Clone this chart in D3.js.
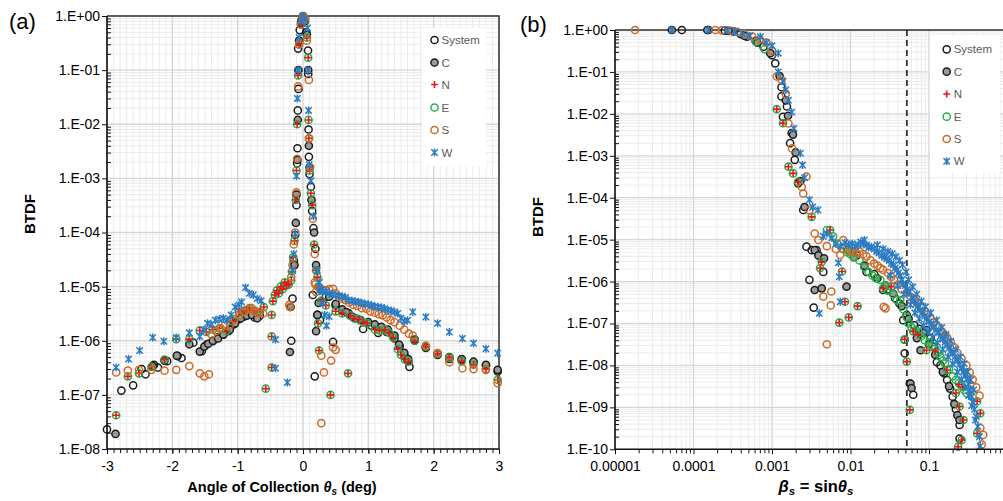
<!DOCTYPE html>
<html>
<head>
<meta charset="utf-8">
<script src="https://cdn.jsdelivr.net/npm/d3@7"></script>
<style>
  body { margin: 0; background: #fff; }
  svg { display: block; }
  text { font-family: "Liberation Sans", Arial, sans-serif; }
</style>
</head>
<body>
<script>
// ---------- series names and tick labels ----------
const seriesNames = ["System", "C", "N", "E", "S", "W"];

const aXTicks = [-3, -2, -1, 0, 1, 2, 3];
const aYTicks = [1, 1e-1, 1e-2, 1e-3, 1e-4, 1e-5, 1e-6, 1e-7, 1e-8];
const aYTickLabels = ["1.E+00", "1.E-01", "1.E-02", "1.E-03", "1.E-04", "1.E-05", "1.E-06", "1.E-07", "1.E-08"];

const bXTicks = [1e-5, 1e-4, 1e-3, 1e-2, 1e-1];
const bXTickLabels = ["0.00001", "0.0001", "0.001", "0.01", "0.1"];
const bYTicks = [1, 1e-1, 1e-2, 1e-3, 1e-4, 1e-5, 1e-6, 1e-7, 1e-8, 1e-9, 1e-10];
const bYTickLabels = ["1.E+00", "1.E-01", "1.E-02", "1.E-03", "1.E-04", "1.E-05", "1.E-06", "1.E-07", "1.E-08", "1.E-09", "1.E-10"];

// incidence cut-off marked on panel (b): sin(3 deg)
const bCutoff = [0.0523];

// ---------- panel (a): BTDF vs angle of collection (deg) ----------
const sysA = [
  [-3.0,2.3e-8],[-2.78,1.2e-7],[-2.6,1.5e-7],[-2.47,3.0e-7],[-2.41,2.4e-7],[-2.28,3.6e-7],[-2.22,3.2e-7],
  [-2.08,4.2e-7],[-1.92,5.2e-7],[-1.86,4.8e-7],[-1.68,9.2e-7],[-1.55,6.4e-7],[-1.47,8.6e-7],[-1.38,9.8e-7],
  [-1.30,1.15e-6],[-1.22,1.3e-6],[-1.14,1.5e-6],[-1.06,2.0e-6],[-0.98,2.5e-6],[-0.90,2.8e-6],[-0.82,3.1e-6],
  [-0.74,2.7e-6],[-0.66,2.9e-6],[-0.16,6.0e-6],[-0.18,1.0e-6],
  [-0.14,3.0e-5],[-0.12,9e-5],[-0.10,3.2e-4],[-0.09,1.9e-3],[-0.085,3.6e-3],[-0.08,0.018],[-0.07,0.045],
  [-0.075,0.25],[-0.05,0.55],[-0.02,0.85],[0.0,1.0],[0.03,0.8],[0.05,0.5],[0.077,0.23],[0.08,0.085],
  [0.085,8e-3],[0.09,2.5e-3],[0.1,1.2e-3],[0.12,7e-4],[0.14,2.5e-4],[0.16,1.2e-4],[0.19,5e-5],[0.15,7e-6],
  [0.18,2.2e-7],[0.22,3.0e-6],[0.26,2.4e-6],[0.46,9.5e-7],
  [0.35,6.5e-6],[0.5,4.5e-6],[0.6,3.6e-6],[0.7,3.2e-6],[0.8,2.6e-6],[0.92,1.65e-6],[1.05,1.9e-6],
  [1.15,1.4e-6],[1.28,1.45e-6],[1.4,1.1e-6],[1.48,8e-7],[1.55,5.5e-7],[1.6,4.3e-7],[1.63,3.3e-7],
  [1.71,1.0e-6],[1.88,7.4e-7],[2.06,5.5e-7],[2.24,4.6e-7],[2.43,4.4e-7],[2.61,4.0e-7],[2.80,3.5e-7],[2.98,2.7e-7]
];
const cA = [
  [-2.87,1.9e-8],[-2.3,3.4e-7],[-2.12,4.3e-7],[-1.93,5.3e-7],[-1.74,8.6e-7],[-1.58,6.3e-7],[-1.51,7.8e-7],
  [-1.45,8.8e-7],[-1.38,1.0e-6],[-1.30,1.1e-6],[-1.22,1.3e-6],[-1.12,1.6e-6],[-1.04,2.1e-6],[-0.95,2.6e-6],
  [-0.86,2.9e-6],[-0.78,3.0e-6],[-0.70,2.6e-6],[-0.2,6.2e-7],[-0.19,4.2e-6],
  [-0.13,2.5e-5],[-0.11,1.5e-4],[-0.1,5e-4],[-0.085,2.2e-3],[-0.08,0.012],[-0.07,0.1],[-0.06,0.35],
  [-0.03,0.75],[0.0,0.95],[0.03,0.9],[0.06,0.45],[0.08,0.1],[0.09,4e-3],[0.1,1.6e-3],[0.13,4e-4],
  [0.17,1.0e-4],[0.2,2.5e-5],[0.2,1.5e-6],[0.22,3e-6],[0.24,5e-6],
  [0.4,6.5e-6],[0.5,4.8e-6],[0.6,3.8e-6],[0.66,3.4e-6],[0.75,2.8e-6],[0.88,2.4e-6],[1.0,2.2e-6],
  [1.1,2.0e-6],[1.2,1.8e-6],[1.3,1.6e-6],[1.4,1.25e-6],[1.47,8.5e-7],[1.55,6e-7],[1.61,4.6e-7],
  [1.71,1.05e-6],[1.88,7.6e-7],[2.06,5.8e-7],[2.24,5.0e-7],[2.43,4.6e-7],[2.61,4.1e-7],[2.80,3.6e-7],[2.98,2.9e-7]
];
const eA = [
  [-2.86,4.2e-8],[-2.68,2.2e-7],[-2.51,2.5e-7],[-2.32,3.3e-7],[-2.12,4.5e-7],[-1.94,1.07e-6],[-1.74,1.07e-6],
  [-1.58,1.55e-6],[-1.48,1.45e-6],[-1.38,1.6e-6],[-1.28,1.7e-6],[-1.17,1.5e-6],[-1.08,2.3e-6],[-0.98,3.4e-6],
  [-0.90,3.6e-6],[-0.82,4.0e-6],[-0.74,3.6e-6],[-0.66,3.4e-6],[-0.6,4.2e-6],[-0.48,3.0e-6],[-0.48,1.2e-6],
  [-0.48,3.2e-7],[-0.57,1.3e-7],
  [-0.46,5.4e-6],[-0.43,7e-6],[-0.40,8.5e-6],[-0.37,7.5e-6],[-0.34,1.0e-5],[-0.31,9e-6],[-0.28,1.2e-5],
  [-0.25,1.05e-5],[-0.22,1.1e-5],[-0.18,1.3e-5],[-0.17,1.9e-5],[-0.15,3.5e-5],
  [-0.13,7e-5],[-0.11,4e-4],[-0.1,1.4e-3],[-0.09,0.01],[-0.075,0.08],[-0.06,0.3],[-0.03,0.7],[0.0,0.98],
  [0.03,0.85],[0.06,0.4],[0.08,0.17],[0.085,0.012],[0.09,5.5e-3],[0.1,1.4e-3],[0.12,5.3e-4],[0.14,3.2e-4],
  [0.17,6e-5],[0.2,2e-5],[0.22,1.5e-5],[0.23,1e-5],[0.23,2.1e-6],[0.245,6.6e-7],[0.42,1.0e-7],[0.69,2.5e-7],
  [0.28,5.5e-6],[0.35,4.5e-6],[0.5,3.5e-6],[0.6,3.2e-6],[0.72,2.9e-6],[0.78,2.6e-6],[0.85,2.5e-6],
  [0.92,2.2e-6],[0.98,2.1e-6],[1.1,1.6e-6],[1.17,1.55e-6],[1.25,1.6e-6],[1.32,1.4e-6],[1.38,1.15e-6],
  [1.45,7e-7],[1.5,5.5e-7],[1.56,4.5e-7],[1.62,4.1e-7],[1.71,1.0e-6],[1.88,7.8e-7],[2.06,5.7e-7],
  [2.24,4.9e-7],[2.43,4.2e-7],[2.61,3.6e-7],[2.80,3.0e-7],[2.98,1.9e-7]
];
// N was measured at the same positions as E in this scan
const nA = eA;
const sA = [
  [-2.86,2.6e-7],[-2.68,2.8e-7],[-2.51,2.9e-7],[-2.32,2.9e-7],[-2.12,2.8e-7],[-1.94,2.9e-7],[-1.74,3.4e-7],
  [-1.58,2.5e-7],[-1.51,2.2e-7],[-1.44,2.4e-7],[-1.4,1.3e-6],[-1.33,1.5e-6],[-1.26,1.7e-6],[-1.2,1.9e-6],
  [-1.12,2.0e-6],[-1.05,2.5e-6],[-0.98,2.9e-6],[-0.9,3.4e-6],[-0.84,3.8e-6],[-0.79,4.0e-6],[-0.74,3.5e-6],
  [-0.68,3.2e-6],[-0.61,3.2e-6],[-0.21,4.6e-6],[-0.2,4.2e-6],
  [-0.18,1.5e-5],[-0.16,2.5e-5],[-0.14,6e-5],[-0.12,1.0e-4],[-0.1,5.5e-4],[-0.09,2.3e-3],[-0.075,0.05],
  [-0.06,0.3],[-0.03,0.7],[0.0,0.98],[0.03,0.9],[0.06,0.35],[0.09,0.066],[0.095,5.5e-3],[0.11,1.6e-3],
  [0.15,1.8e-4],[0.18,4e-5],[0.19,1.1e-5],[0.2,8e-6],[0.28,5.3e-7],[0.43,4.3e-7],[0.32,2.6e-7],[0.28,3.0e-8],
  [0.46,7.5e-7],[0.5,6.8e-7],
  [0.18,1.2e-5],[0.25,9.5e-6],[0.3,8.5e-6],[0.35,8.5e-6],[0.4,9.0e-6],[0.46,9.1e-6],[0.5,7.5e-6],[0.55,6.5e-6],
  [0.6,6.0e-6],[0.65,5.6e-6],[0.71,5.1e-6],[0.77,4.6e-6],[0.83,4.4e-6],[0.9,4.0e-6],[0.97,3.9e-6],
  [1.03,3.5e-6],[1.1,3.3e-6],[1.16,3.1e-6],[1.22,2.95e-6],[1.28,2.7e-6],[1.34,2.4e-6],[1.4,2.2e-6],
  [1.48,1.9e-6],[1.55,1.6e-6],[1.62,1.35e-6],[1.68,1.25e-6],[1.88,8.1e-7],[2.06,5.9e-7],[2.24,4.0e-7],
  [2.44,3.1e-7],[2.61,3.0e-7],[2.8,2.9e-7],[2.98,1.65e-7]
];
const wA = [
  [-2.86,3.2e-7],[-2.67,4.6e-7],[-2.5,6.6e-7],[-2.3,1.15e-6],[-2.13,9.8e-7],[-1.94,1.15e-6],[-1.74,1.4e-6],
  [-1.58,1.2e-6],[-1.52,1.6e-6],[-1.46,2.1e-6],[-1.4,2.0e-6],[-1.34,2.4e-6],[-1.28,2.5e-6],[-1.22,2.6e-6],
  [-1.16,2.4e-6],[-1.1,3.0e-6],[-1.04,4.2e-6],[-0.98,4.6e-6],[-0.94,5.2e-6],[-0.88,9.6e-6],[-0.82,7.5e-6],
  [-0.76,7e-6],[-0.7,6e-6],[-0.64,5.5e-6],[-0.42,1.05e-6],[-0.42,3.1e-7],[-0.24,1.7e-7],
  [-0.16,2e-5],[-0.14,4e-5],[-0.12,9.5e-5],[-0.1,1.1e-3],[-0.085,0.03],[-0.075,0.1],[-0.06,0.4],[-0.03,0.8],
  [0.0,1.0],[0.03,0.9],[0.07,0.6],[0.08,0.1],[0.085,0.018],[0.095,1.8e-3],[0.12,9e-4],[0.16,2e-4],
  [0.22,2e-5],[0.25,1.2e-5],[0.28,9e-6],[0.3,5e-6],[0.33,3e-6],[0.36,1.9e-6],[0.4,2.8e-6],
  [0.25,8.5e-6],[0.3,8e-6],[0.35,8.2e-6],[0.4,7.5e-6],[0.45,7.2e-6],[0.5,7.0e-6],[0.55,6.7e-6],[0.6,6.6e-6],
  [0.65,6.3e-6],[0.7,5.6e-6],[0.75,5.5e-6],[0.8,5.3e-6],[0.85,5.2e-6],[0.9,5e-6],[0.95,4.8e-6],[1.0,4.7e-6],
  [1.05,4.5e-6],[1.1,4.3e-6],[1.15,4.2e-6],[1.2,4.1e-6],[1.25,3.9e-6],[1.3,3.7e-6],[1.35,3.6e-6],[1.4,3.4e-6],
  [1.45,3.2e-6],[1.5,2.6e-6],[1.55,2.3e-6],[1.6,2.4e-6],[1.68,3.4e-6],[1.88,2.75e-6],[2.06,2.1e-6],
  [2.24,1.45e-6],[2.44,1.1e-6],[2.61,9e-7],[2.8,7.1e-7],[2.98,5.9e-7]
];

// ---------- panel (b): BTDF vs beta_s = sin(theta_s) ----------
const sysB = [
  [7.1e-5,1.0],[1.55e-4,1.0],[2.5e-4,0.97],[3.2e-4,0.93],[4.0e-4,0.8],[4.8e-4,0.69],[6.2e-4,0.55],[7.8e-4,0.4],
  [1.0e-3,0.25],[1.1e-3,0.16],[1.32e-3,0.043],[1.32e-3,0.026],[1.55e-3,0.015],[1.38e-3,8.5e-3],[1.78e-3,3.5e-3],
  [1.7e-3,2.0e-3],[1.95e-3,8e-4],[2.15e-3,2.2e-4],[2.5e-3,5.1e-5],[2.75e-3,6.8e-6],[3.2e-3,5.6e-6],[3.7e-3,5.6e-6],
  [4.3e-3,3.5e-6],[4.5e-3,1.7e-6],[3.0e-3,1.1e-6],[3.4e-3,2.4e-7],[9.3e-3,5.6e-6],[1.2e-2,4.2e-6],[1.6e-2,1.7e-6],
  [2.0e-2,1.5e-6],[2.6e-2,6.3e-7],[3.0e-2,6.5e-7],[3.7e-2,4.0e-7],[4.2e-2,3.0e-7],[4.7e-2,1.2e-7],[4.9e-2,4.1e-8],
  [4.9e-2,1.95e-8],[5.2e-2,1.6e-7],[5.7e-2,3.7e-9],[6.3e-2,2.0e-9],[6.5e-2,9e-8],[7.5e-2,7.5e-8],[9.3e-2,7.0e-8],
  [0.105,4.5e-8],[0.115,2.8e-8],[0.126,1.2e-8],[0.14,1.0e-8],[0.155,6.5e-9],[0.17,4.5e-9],[0.185,2.8e-9],
  [0.2,1.8e-9],[0.22,9e-10],[0.245,3.8e-10],[0.245,1.8e-10]
];
const cB = [
  [5.3e-5,1.0],[1.5e-4,1.0],[2.8e-4,0.95],[4.5e-4,0.72],[6.5e-4,0.5],[9.5e-4,0.28],[1.25e-3,0.08],[1.5e-3,0.021],
  [1.6e-3,9e-3],[1.85e-3,3.2e-3],[2.0e-3,1.2e-3],[2.3e-3,2.5e-4],[2.6e-3,6e-5],[3.5e-3,5.6e-6],[3.9e-3,4.2e-6],
  [4.6e-3,3.6e-6],[3.5e-3,6.3e-7],[4.3e-3,6.9e-7],[8.9e-3,7.6e-7],[1.1e-2,3.8e-6],[1.5e-2,2.4e-6],[2.2e-2,1.2e-6],
  [2.8e-2,8e-7],[3.5e-2,5.2e-7],[4.5e-2,2.6e-7],[5.5e-2,1.3e-7],[5.8e-2,3.7e-9],[6.0e-2,2.9e-9],[7.0e-2,4.5e-8],
  [7.8e-2,2.3e-8],[8.5e-2,6e-8],[0.1,3.2e-8],[0.12,1.8e-8],[0.15,7e-9],[0.18,3.2e-9],[0.21,1.2e-9],
  [0.23,6.5e-10],[0.245,5e-10]
];
const eB = [
  [6.3e-4,0.52],[8e-4,0.35],[1.15e-3,0.013],[1.38e-3,6e-3],[1.62e-3,5.5e-4],[1.86e-3,3.8e-4],[2.15e-3,2.4e-4],
  [3.2e-3,3.5e-5],[5.5e-3,1.7e-5],[4.3e-3,2.95e-6],[4.1e-3,2.1e-6],[7.8e-3,1.74e-6],[8.5e-3,3.3e-7],
  [1.23e-2,2.6e-7],[7.2e-3,1.05e-7],[9.5e-3,1.4e-7],[2.6e-2,6.9e-7],[3.3e-2,7.6e-7],[4.9e-2,4.2e-8],
  [5.2e-2,1.23e-8],[5.7e-2,8.7e-10],[6.3e-2,6.5e-8],[9.3e-2,2.3e-8],[0.17,7.8e-9],[0.22,2.2e-9],[0.245,1.05e-9],
  [0.275,5e-10],[0.26,1.66e-10],[0.235,1.15e-10],[0.41,1.4e-9],[0.45,7.2e-10],[0.41,2.4e-10],
  [5.0e-3,1.7e-5],[6.0e-3,1.2e-5],[6.8e-3,8e-6],[8.0e-3,6e-6],[9.0e-3,5e-6],[1.0e-2,4.5e-6],[1.1e-2,3.8e-6],
  [1.3e-2,3.2e-6],[1.5e-2,2.2e-6],[1.7e-2,1.7e-6],[1.9e-2,1.4e-6],[2.1e-2,1.2e-6],[2.4e-2,1.1e-6],[2.8e-2,8e-7],
  [3.0e-2,6e-7],[3.5e-2,5e-7],[3.9e-2,3.6e-7],[4.3e-2,3.6e-7],[4.7e-2,2.2e-7],[5.2e-2,1.4e-7],[5.5e-2,1.0e-7],
  [6.0e-2,8e-8],[6.8e-2,7e-8],[7.5e-2,6e-8],[8.0e-2,5e-8],[8.8e-2,4e-8],[0.1,3.5e-8],[0.11,3e-8],[0.12,2.5e-8],
  [0.13,2.0e-8],[0.14,1.6e-8],[0.15,1.3e-8],[0.16,1.1e-8],[0.18,8e-9],[0.2,5.5e-9],[0.22,4.5e-9],[0.24,3.8e-9],
  [0.26,3.2e-9],[0.28,2.6e-9],[0.3,2.2e-9]
];
const nB = [
  [1.15e-3,0.013],[1.38e-3,6e-3],[1.62e-3,5.5e-4],[1.86e-3,3.8e-4],[2.15e-3,2.4e-4],[3.2e-3,3.5e-5],[5.5e-3,1.7e-5],
  [4.3e-3,2.95e-6],[4.1e-3,2.1e-6],[7.8e-3,1.74e-6],[8.5e-3,3.3e-7],[1.23e-2,2.6e-7],[7.2e-3,1.05e-7],
  [9.5e-3,1.4e-7],[2.6e-2,6.9e-7],[3.3e-2,7.6e-7],[4.9e-2,4.2e-8],[5.2e-2,1.23e-8],[5.7e-2,8.7e-10],
  [6.3e-2,6.5e-8],[7.2e-2,5.5e-8],[9.3e-2,2.3e-8],[0.12,2.2e-8],[0.17,7.8e-9],[0.22,2.2e-9],[0.245,1.05e-9],
  [0.275,5e-10],[0.26,1.66e-10],[0.235,1.15e-10],[0.41,1.4e-9],[0.45,7.2e-10],[0.41,2.4e-10],[0.27,3e-9],[0.24,3.5e-9]
];
const sB = [
  [1.8e-5,1.0],[1.9e-4,1.0],[2.3e-4,0.98],[3.0e-4,0.96],[3.6e-4,0.9],[4.4e-4,0.82],[5.6e-4,0.7],[7.0e-4,0.6],
  [8.5e-4,0.5],[1.0e-3,0.32],[1.15e-3,0.078],[1.32e-3,0.065],[1.5e-3,0.03],[1.62e-3,5.9e-3],[1.8e-3,1.5e-3],
  [2.4e-3,1.8e-4],[2.75e-3,3.2e-4],[2.5e-3,1.26e-4],[3.0e-3,5e-5],[3.5e-3,1.4e-5],[3.9e-3,9.8e-6],[5.0e-3,7e-6],
  [6.5e-3,6e-6],[8.1e-3,9.8e-6],[7.4e-3,4.3e-6],[4.5e-3,4.4e-7],[5.7e-3,5.8e-7],[5.6e-3,2.7e-7],[5e-3,3.2e-8],
  [9e-3,6e-6],[1.0e-2,5.5e-6],[1.1e-2,5e-6],[1.2e-2,4.8e-6],[1.3e-2,5.2e-6],[1.45e-2,4.5e-6],[1.6e-2,4e-6],
  [1.8e-2,3.2e-6],[2.0e-2,2.7e-6],[2.2e-2,2.4e-6],[2.4e-2,2.1e-6],[2.6e-2,1.9e-6],[2.65e-2,2.5e-7],[2.8e-2,2.3e-7],
  [3.0e-2,1.6e-6],[3.3e-2,1.3e-6],[3.6e-2,1.1e-6],[4.0e-2,8.5e-7],[4.5e-2,6.5e-7],[5.2e-2,5.5e-7],[5.8e-2,4.4e-7],
  [6.5e-2,3.6e-7],[7.2e-2,3.0e-7],[8e-2,2.4e-7],[8.8e-2,2.0e-7],[9.5e-2,1.6e-7],[0.105,1.3e-7],[0.115,1.05e-7],
  [0.13,8.2e-8],[0.145,6.5e-8],[0.16,5.3e-8],[0.17,4.6e-8],[0.19,3.5e-8],[0.21,2.7e-8],[0.23,2.0e-8],
  [0.26,1.45e-8],[0.3,1.0e-8],[0.33,6.8e-9],[0.36,4.6e-9],[0.4,3.0e-9],[0.44,1.9e-9],[0.45,3.2e-10],
  [0.49,2.2e-10],[0.47,1.3e-10]
];
const wB = [
  [5.3e-5,1.0],[1.55e-4,1.0],[2.7e-4,0.98],[3.4e-4,0.92],[4.2e-4,0.82],[5.2e-4,0.72],[7.1e-4,0.69],[8.5e-4,0.5],
  [1.0e-3,0.42],[1.2e-3,0.28],[1.2e-3,0.1],[1.38e-3,0.06],[1.5e-3,0.037],[1.62e-3,0.021],[1.78e-3,0.011],
  [1.9e-3,4.5e-3],[2.3e-3,1.15e-3],[2.45e-3,6e-4],[2.6e-3,3e-4],[3.0e-3,9e-5],[3.3e-3,6e-5],[3.85e-3,5.1e-5],
  [4.5e-3,1.2e-5],[5.0e-3,1.4e-5],[5.8e-3,1.1e-5],[7.2e-3,1.3e-6],[7.4e-3,3.3e-7],[4.0e-3,1.75e-7],[7.0e-3,2.8e-6],
  [1.5e-2,9.8e-6],
  [6.5e-3,8e-6],[7.5e-3,7e-6],[8.5e-3,8.5e-6],[9.5e-3,7.5e-6],[1.05e-2,8e-6],[1.15e-2,7e-6],[1.25e-2,7.6e-6],
  [1.35e-2,8.8e-6],[1.45e-2,8e-6],[1.6e-2,7.4e-6],[1.7e-2,6.5e-6],[1.85e-2,6.8e-6],[2.0e-2,6e-6],[2.15e-2,5.2e-6],
  [2.3e-2,4.8e-6],[2.5e-2,4.2e-6],[2.7e-2,3.8e-6],[2.9e-2,3.5e-6],[3.1e-2,3.2e-6],[3.3e-2,2.7e-6],[3.5e-2,2.5e-6],
  [3.7e-2,2.1e-6],[3.9e-2,1.9e-6],[4.1e-2,1.6e-6],[4.3e-2,1.4e-6],[4.5e-2,1.1e-6],[4.7e-2,9e-7],[5.0e-2,8e-7],
  [5.3e-2,6.5e-7],[5.6e-2,5.5e-7],[6.0e-2,4.2e-7],[6.4e-2,3.5e-7],[6.8e-2,2.9e-7],[7.2e-2,2.5e-7],[7.7e-2,2.1e-7],
  [8.2e-2,1.8e-7],[8.8e-2,1.5e-7],[9.4e-2,1.3e-7],[0.1,1.1e-7],[0.107,9.5e-8],[0.115,8e-8],[0.123,7e-8],
  [0.132,6e-8],[0.14,5e-8],[0.15,4.2e-8],[0.16,3.6e-8],[0.17,3.1e-8],[0.18,2.6e-8],[0.19,2.2e-8],[0.2,1.9e-8],
  [0.215,1.6e-8],[0.23,1.3e-8],[0.245,1.05e-8],[0.26,8.5e-9],[0.275,7e-9],[0.29,5.8e-9],[0.305,4.8e-9],
  [0.32,3.6e-9],[0.335,2.6e-9],[0.35,1.8e-9],[0.365,1.3e-9],[0.38,9e-10],[0.4,6e-10],[0.42,3.5e-10],
  [0.44,2e-10],[0.45,1.2e-10],
  [2.2e-2,7.5e-6],[2.6e-2,6e-6],[3.0e-2,5.2e-6],[3.4e-2,4.6e-6],[3.8e-2,3.9e-6],[4.2e-2,3.2e-6],[4.6e-2,2.5e-6],
  [5.1e-2,1.7e-6],[5.5e-2,1.1e-6],[6.2e-2,7.5e-7],[7.0e-2,5e-7],[8.0e-2,3.4e-7],[9.0e-2,2.5e-7],[0.105,1.8e-7],
  [0.125,1.2e-7],[0.145,8e-8],[0.165,5.5e-8],[0.19,3.8e-8],[0.22,2.4e-8],[0.25,1.6e-8],[0.28,1.1e-8],
  [0.31,7e-9],[0.34,4.5e-9],[0.37,2.6e-9],
  [3.2e-2,1.4e-6],[4.0e-2,8e-7],[4.8e-2,5e-7],[5.8e-2,2.8e-7],[6.6e-2,1.8e-7],[7.5e-2,1.3e-7],[8.5e-2,9e-8],
  [9.7e-2,6.5e-8],[0.11,4.8e-8],[0.128,3.5e-8],[0.15,2.4e-8],[0.175,1.6e-8],[0.2,1.1e-8],[0.23,7e-9],
  [0.26,4.6e-9],[0.29,3e-9],[0.32,1.9e-9],[0.35,1.1e-9],[0.39,5e-10]
];

// ---------- marker styles ----------
const markerStyle = {
  System: { shape: "circle", stroke: "#1c1c1c", fill: "none" },
  C:      { shape: "circle", stroke: "#1c1c1c", fill: "#9a9a9a" },
  N:      { shape: "plus",   stroke: "#e5171c" },
  E:      { shape: "circle", stroke: "#27ae4a", fill: "none" },
  S:      { shape: "circle", stroke: "#cc6a28", fill: "none" },
  W:      { shape: "star",   stroke: "#2a7bc2" }
};
const drawOrder = ["System", "C", "E", "N", "S", "W"];

const W = 1003, H = 501;
const svg = d3.select("body").append("svg").attr("width", W).attr("height", H);
svg.append("rect").attr("width", W).attr("height", H).attr("fill", "#fff");

function markerPath(shape, r) {
  if (shape === "plus") return `M${-r},0H${r}M0,${-r}V${r}`;
  const a = r * 0.8;
  return `M${-a},${-a}L${a},${a}M${-a},${a}L${a},${-a}M0,${-r}V${r}`;
}

function drawSeries(g, data, name, x, y) {
  const st = markerStyle[name];
  const layer = g.append("g");
  if (st.shape === "circle") {
    layer.selectAll("circle").data(data).join("circle")
      .attr("cx", d => x(d[0])).attr("cy", d => y(d[1])).attr("r", 3.6)
      .attr("fill", st.fill).attr("stroke", st.stroke).attr("stroke-width", 1.5);
  } else {
    const p = markerPath(st.shape, st.shape === "plus" ? 3.4 : 4);
    layer.selectAll("path").data(data).join("path")
      .attr("transform", d => `translate(${x(d[0])},${y(d[1])})`)
      .attr("d", p).attr("fill", "none").attr("stroke", st.stroke)
      .attr("stroke-width", st.shape === "plus" ? 1.6 : 1.5);
  }
}

function logMinors(lo, hi) {
  const out = [];
  for (let e = lo; e < hi; e++) for (let m = 2; m <= 9; m++) out.push(m * Math.pow(10, e));
  return out;
}

function drawPanel(cfg) {
  const { x, y, xMinor, xMajor, yMinor, yMajor } = cfg;
  const [x0, x1] = x.range(), [y1, y0] = y.range();
  const g = svg.append("g");

  // grid
  const grid = g.append("g");
  grid.selectAll(".vx").data(xMinor).join("line")
    .attr("x1", d => x(d)).attr("x2", d => x(d)).attr("y1", y0).attr("y2", y1)
    .attr("stroke", "#ebebeb").attr("stroke-width", 1);
  grid.selectAll(".hy").data(yMinor).join("line").attr("class", "hy")
    .attr("y1", d => y(d)).attr("y2", d => y(d)).attr("x1", x0).attr("x2", x1)
    .attr("stroke", "#ebebeb").attr("stroke-width", 1);
  grid.selectAll(".vX").data(xMajor).join("line").attr("class", "vX")
    .attr("x1", d => x(d)).attr("x2", d => x(d)).attr("y1", y0).attr("y2", y1)
    .attr("stroke", "#d6d6d6").attr("stroke-width", 1.3);
  grid.selectAll(".hY").data(yMajor).join("line").attr("class", "hY")
    .attr("y1", d => y(d)).attr("y2", d => y(d)).attr("x1", x0).attr("x2", x1)
    .attr("stroke", "#d6d6d6").attr("stroke-width", 1.3);

  // frame (top, right)
  g.append("path").attr("d", `M${x0},${y0}H${x1}V${y1}`)
    .attr("fill", "none").attr("stroke", "#333").attr("stroke-width", 1.5);

  // legend box
  const lg = cfg.legend;
  g.append("rect").attr("x", lg.x).attr("y", lg.y).attr("width", lg.w).attr("height", lg.h).attr("fill", "#fff");

  // extra reference line
  if (cfg.vline) {
    g.selectAll(".cut").data(cfg.vline).join("line")
      .attr("x1", d => x(d)).attr("x2", d => x(d)).attr("y1", y0).attr("y2", y1)
      .attr("stroke", "#111").attr("stroke-width", 1.5).attr("stroke-dasharray", "6,4");
  }

  // data
  drawOrder.forEach(n => drawSeries(g, cfg.series[n], n, x, y));

  // legend entries
  seriesNames.forEach((n, i) => {
    const cy = lg.rows[i];
    const one = [[x.invert(lg.mx), y.invert(cy)]];
    drawSeries(g, one, n, x, y);
    g.append("text").attr("x", lg.mx + 7).attr("y", cy).attr("dy", "0.36em")
      .attr("font-family", "'Open Sans', 'Noto Sans', sans-serif").attr("font-size", 11.5)
      .attr("fill", "#5a5a5a").text(n);
  });

  // axes
  const tickFont = sel => sel.selectAll("text").attr("font-family", "'Liberation Sans', Arial, sans-serif")
    .attr("font-size", 14).attr("fill", "#000");
  const yAx = g.append("g").attr("transform", `translate(${x0},0)`)
    .call(d3.axisLeft(y).tickValues(yMajor).tickSize(5).tickSizeOuter(0).tickPadding(2)
      .tickFormat((d, i) => cfg.yLabels[i]));
  yAx.call(tickFont);
  g.append("g").attr("transform", `translate(${x0},0)`)
    .call(d3.axisRight(y).tickValues(yMinor).tickSize(4).tickSizeOuter(0).tickFormat(""));
  const xAx = g.append("g").attr("transform", `translate(0,${y1})`)
    .call(d3.axisBottom(x).tickValues(xMajor).tickSize(5).tickSizeOuter(0).tickPadding(7)
      .tickFormat((d, i) => cfg.xLabels[i]));
  xAx.call(tickFont);
  g.append("g").attr("transform", `translate(0,${y1})`)
    .call(d3.axisBottom(x).tickValues(xMinor).tickSize(4).tickSizeOuter(0).tickFormat(""));
  g.selectAll(".domain").remove();
  g.selectAll(".tick line").attr("stroke", "#111");
  g.append("path").attr("d", `M${x0},${y0}V${y1}H${x1}`)
    .attr("fill", "none").attr("stroke", "#111").attr("stroke-width", 1.6);

  // titles
  g.append("text").attr("transform", `translate(${cfg.yTitle[0]},${cfg.yTitle[1]}) rotate(-90)`)
    .attr("text-anchor", "middle").attr("dy", "0.36em")
    .attr("font-weight", "bold").attr("font-size", 15).text("BTDF");
  g.append("text").attr("x", cfg.tag[0]).attr("y", cfg.tag[1])
    .attr("font-size", 22).text(cfg.tagText);
  return g;
}

// panel (a)
const xA = d3.scaleLinear().domain([-3, 3]).range([107, 499]);
const yA = d3.scaleLog().domain([1e-8, 1]).range([449, 16]);
const gA = drawPanel({
  x: xA, y: yA,
  xMajor: aXTicks, xLabels: aXTicks.map(String),
  xMinor: d3.range(-30, 31).map(i => i / 10),
  yMajor: aYTicks, yLabels: aYTickLabels, yMinor: logMinors(-8, 0),
  series: { System: sysA, C: cA, N: nA, E: eA, S: sA, W: wA },
  legend: { x: 422, y: 28, w: 64, h: 138, mx: 434.5, rows: [40, 62.5, 84.5, 107.5, 130, 152.5] },
  yTitle: [30, 214], tag: [9, 29], tagText: "(a)"
});
const tA = gA.append("text").attr("x", 282).attr("y", 492).attr("text-anchor", "middle")
  .attr("font-weight", "bold").attr("font-size", 14.5);
tA.append("tspan").text("Angle of Collection ");
tA.append("tspan").attr("font-style", "italic").text("θ");
tA.append("tspan").attr("font-style", "italic").attr("font-size", 10).attr("dy", 3).text("s");
tA.append("tspan").attr("dy", -3).text(" (deg)");

// panel (b)
const xB = d3.scaleLog().domain([1e-5, 1]).range([615, 1007.5]);
const yB = d3.scaleLog().domain([1e-10, 1]).range([449.3, 30]);
const gB = drawPanel({
  x: xB, y: yB,
  xMajor: bXTicks, xLabels: bXTickLabels, xMinor: logMinors(-5, 0),
  yMajor: bYTicks, yLabels: bYTickLabels, yMinor: logMinors(-10, 0),
  series: { System: sysB, C: cB, N: nB, E: eB, S: sB, W: wB },
  legend: { x: 930, y: 35, w: 70, h: 138, mx: 946.7, rows: [49.3, 71.7, 94, 116.7, 139, 161.3] },
  vline: bCutoff,
  yTitle: [538, 217], tag: [520, 32], tagText: "(b)"
});
const tB = gB.append("text").attr("x", 816).attr("y", 492).attr("text-anchor", "middle")
  .attr("font-weight", "bold").attr("font-size", 16.5);
tB.append("tspan").attr("font-style", "italic").text("β");
tB.append("tspan").attr("font-style", "italic").attr("font-size", 11.5).attr("dy", 3).text("s");
tB.append("tspan").attr("dy", -3).text(" = sin");
tB.append("tspan").attr("font-style", "italic").text("θ");
tB.append("tspan").attr("font-style", "italic").attr("font-size", 11.5).attr("dy", 3).text("s");
</script>
</body>
</html>
